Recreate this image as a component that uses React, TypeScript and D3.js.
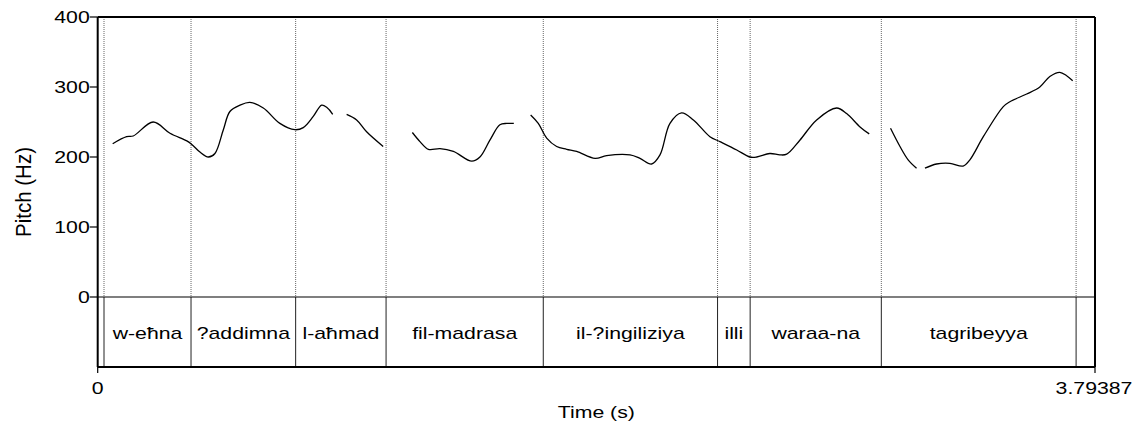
import React from "react";
import * as d3 from "d3";

// ---- Data ----
const TIME_MAX = 3.79387;
const Y_TICKS = [0, 100, 200, 300, 400];
const BOUNDARIES = [0.024, 0.355, 0.753, 1.097, 1.695, 2.358, 2.482, 2.981, 3.722];
const WORDS = ["w-eħna", "?addimna", "l-aħmad", "fil-madrasa", "il-?ingiliziya", "illi", "waraa-na", "tagribeyya"];

const pitchSeg1: [number, number][] = [
  [0.057, 219], [0.110, 229], [0.135, 230], [0.211, 250], [0.275, 234], [0.339, 223],
  [0.358, 218], [0.389, 207], [0.421, 200], [0.446, 205], [0.478, 239], [0.503, 265],
  [0.541, 274], [0.579, 278], [0.630, 270], [0.693, 248], [0.750, 239], [0.782, 242],
  [0.820, 258], [0.852, 274], [0.871, 271], [0.894, 261],
];
const pitchSeg2: [number, number][] = [
  [0.947, 261], [0.985, 253], [1.023, 236], [1.086, 215],
];
const pitchSeg3: [number, number][] = [
  [1.197, 235], [1.226, 222], [1.258, 211], [1.302, 212], [1.353, 208], [1.423, 194],
  [1.454, 200], [1.492, 224], [1.530, 246], [1.556, 248], [1.583, 248],
];
const pitchSeg4: [number, number][] = [
  [1.647, 260], [1.676, 248], [1.708, 227], [1.746, 215], [1.784, 211], [1.822, 208],
  [1.892, 198], [1.936, 202], [2.025, 203], [2.063, 198], [2.107, 190], [2.139, 203],
  [2.177, 248], [2.221, 263], [2.266, 253], [2.329, 229], [2.367, 222], [2.431, 210],
  [2.481, 200], [2.507, 200], [2.557, 205], [2.595, 203], [2.621, 204], [2.671, 224],
  [2.735, 253], [2.811, 270], [2.849, 262], [2.900, 243], [2.935, 233],
];
const pitchSeg5: [number, number][] = [
  [3.016, 241], [3.052, 215], [3.083, 196], [3.115, 184],
];
const pitchSeg6: [number, number][] = [
  [3.147, 184], [3.191, 190], [3.242, 191], [3.292, 187], [3.318, 196], [3.369, 229],
  [3.445, 272], [3.470, 279], [3.534, 290], [3.584, 300], [3.622, 315], [3.660, 321],
  [3.686, 316], [3.709, 309],
];
const PITCH_SEGMENTS = [pitchSeg1, pitchSeg2, pitchSeg3, pitchSeg4, pitchSeg5, pitchSeg6];

// ---- Layout ----
const W = 1141;
const H = 424;
const LEFT = 97.7;
const RIGHT = 1095;
const TOP = 17;
const ZERO_Y = 297;
const BOTTOM = 367;
const FONT = "'Liberation Sans', Arial, Helvetica, sans-serif";
const FS = 17;
const SX = 1.25;

export default function App() {
  const x = d3.scaleLinear().domain([0, TIME_MAX]).range([LEFT, RIGHT]);
  const y = d3.scaleLinear().domain([0, 400]).range([ZERO_Y, TOP]);
  const line = d3
    .line<[number, number]>()
    .x((d) => x(d[0]))
    .y((d) => y(d[1]))
    .curve(d3.curveCatmullRom.alpha(0.5));

  const edges = [0, ...BOUNDARIES, TIME_MAX];

  const txt = (
    key: string,
    tx: number,
    ty: number,
    s: string,
    anchor: "start" | "middle" | "end"
  ) => (
    <text
      key={key}
      transform={`translate(${tx},${ty}) scale(${SX},1)`}
      textAnchor={anchor}
      fontFamily={FONT}
      fontSize={FS}
      fill="#000"
    >
      {s}
    </text>
  );

  return (
    <svg
      width={W}
      height={H}
      style={{ position: "absolute", left: 0, top: 0, display: "block", background: "#fff" }}
    >
      <rect x={0} y={0} width={W} height={H} fill="#fff" />

      {/* dotted boundaries in pitch area */}
      {BOUNDARIES.map((b, i) => (
        <line
          key={"dot" + i}
          x1={x(b)}
          x2={x(b)}
          y1={TOP}
          y2={ZERO_Y}
          stroke="#666"
          strokeWidth={1}
          strokeDasharray="1 1"
        />
      ))}

      {/* tier boundaries */}
      {BOUNDARIES.map((b, i) => (
        <line
          key={"tb" + i}
          x1={x(b)}
          x2={x(b)}
          y1={ZERO_Y}
          y2={BOTTOM}
          stroke="#222"
          strokeWidth={1}
        />
      ))}

      {/* pitch curve */}
      {PITCH_SEGMENTS.map((seg, i) => (
        <path key={"seg" + i} d={line(seg) || ""} fill="none" stroke="#000" strokeWidth={1.3} />
      ))}

      {/* frame */}
      <line x1={LEFT} x2={RIGHT} y1={TOP} y2={TOP} stroke="#000" strokeWidth={2} />
      <line x1={LEFT} x2={RIGHT} y1={BOTTOM} y2={BOTTOM} stroke="#000" strokeWidth={2} />
      <line x1={LEFT} x2={LEFT} y1={TOP} y2={BOTTOM} stroke="#000" strokeWidth={2} />
      <line x1={RIGHT} x2={RIGHT} y1={TOP} y2={BOTTOM} stroke="#000" strokeWidth={2} />
      <line x1={LEFT} x2={RIGHT} y1={ZERO_Y} y2={ZERO_Y} stroke="#000" strokeWidth={1.2} />

      {/* y ticks */}
      {Y_TICKS.map((t) => (
        <g key={"yt" + t}>
          <line x1={LEFT - 8} x2={LEFT} y1={y(t)} y2={y(t)} stroke="#000" strokeWidth={1.2} />
          {txt("ytl" + t, LEFT - 8, y(t) + 6.2, String(t), "end")}
        </g>
      ))}

      {/* x ticks */}
      {[0, TIME_MAX].map((t) => (
        <line key={"xt" + t} x1={x(t)} x2={x(t)} y1={BOTTOM} y2={BOTTOM + 6} stroke="#000" strokeWidth={1.2} />
      ))}
      {txt("x0", x(0), 394, "0", "middle")}
      {txt("x1", x(TIME_MAX) - 1, 394, String(TIME_MAX), "middle")}
      {txt("xlab", (LEFT + RIGHT) / 2, 418, "Time (s)", "middle")}

      {/* y label */}
      <text
        transform={`translate(31,${(TOP + BOTTOM) / 2}) rotate(-90) scale(1,1.12)`}
        textAnchor="middle"
        fontFamily={FONT}
        fontSize={20.5}
        fill="#000"
      >
        Pitch (Hz)
      </text>

      {/* word labels */}
      {WORDS.map((w, i) =>
        txt("w" + i, (x(edges[i + 1]) + x(edges[i + 2])) / 2, 339, w, "middle")
      )}
    </svg>
  );
}
